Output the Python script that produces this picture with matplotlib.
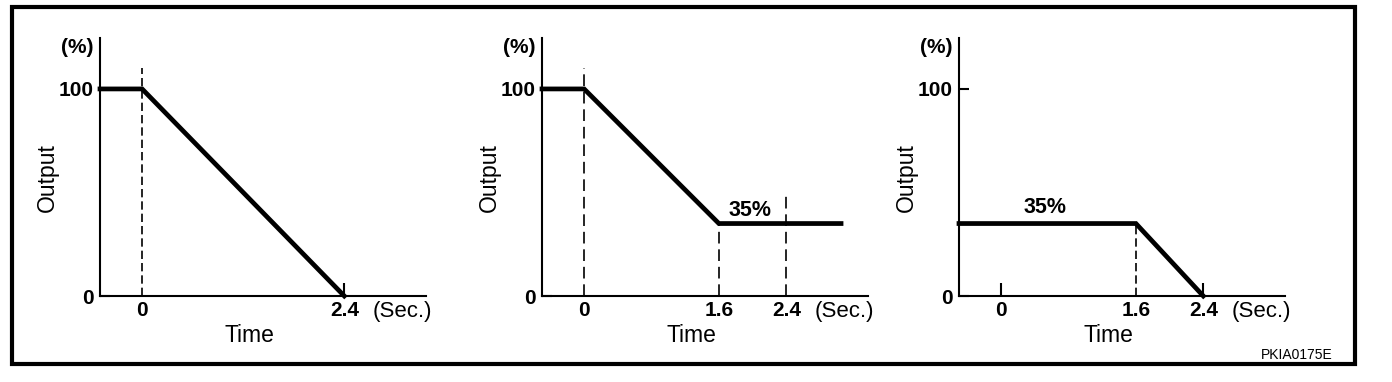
import matplotlib
matplotlib.use('Agg')
import matplotlib.pyplot as plt
from matplotlib.patches import Rectangle

plt.rcParams['font.family'] = ['Liberation Sans', 'DejaVu Sans']

# output curves (time in sec, output in %)
t1 = [-0.5, 0, 2.4]
y1 = [100, 100, 0]
t2 = [-0.5, 0, 1.6, 3.05]
y2 = [100, 100, 35, 35]
t3 = [-0.5, 1.6, 2.4]
y3 = [35, 35, 0]

# dashed guide lines: (time, top %)
guides1 = [(0, 110)]
guides2 = [(0, 110), (1.6, 35), (2.4, 50)]
guides3 = [(1.6, 35)]

xticks1 = [0, 2.4]
xticks2 = [0, 1.6, 2.4]
xticks3 = [0, 1.6, 2.4]
yticks = [0, 100]

W, H = 1392, 382
fig = plt.figure(figsize=(W / 100, H / 100), dpi=100)


def panel(left, t, y, guides, xticks, dash, hide_ticks, note=None):
  ax = fig.add_axes([left / W, (H - 296) / H, 326 / W, 258 / H])
  ax.set_xlim(-0.5, 3.37)
  ax.set_ylim(0, 124.6)
  for s in ['top', 'right']:
    ax.spines[s].set_visible(False)
  for s in ['left', 'bottom']:
    ax.spines[s].set_linewidth(1.5)

  ax.plot(t, y, color='black', lw=3.4, solid_joinstyle='miter', clip_on=False, zorder=3)
  for gx, gtop in guides:
    ax.plot([gx, gx], [0, gtop], color='black', lw=1.2, dashes=dash, clip_on=False)

  ax.set_xticks(xticks)
  ax.set_xticklabels([str(v) for v in xticks], fontweight='bold', fontsize=15)
  ax.set_yticks(yticks)
  ax.set_yticklabels([str(v) for v in yticks], fontweight='bold', fontsize=15)
  ax.tick_params(axis='x', direction='in', length=9.5, width=1.5, pad=3.5)
  ax.tick_params(axis='y', direction='in', length=7, width=1.5, pad=4.5)
  for i in hide_ticks:
    ax.xaxis.get_major_ticks()[i].tick1line.set_visible(False)

  ax.annotate('(%)', xy=(-0.5, 120), xytext=(-6, 0), textcoords='offset pixels',
              ha='right', va='center', fontsize=15, fontweight='bold')
  ax.annotate('Output', xy=(-0.5, 57), xytext=(-53, 0), textcoords='offset pixels',
              ha='center', va='center', rotation=90, fontsize=16.5)
  ax.annotate('Time', xy=(1.27, 0), xytext=(0, -39), textcoords='offset pixels',
              ha='center', va='center', fontsize=16.5)
  ax.annotate('(Sec.)', xy=(2.4, 0), xytext=(28, -15.5), textcoords='offset pixels',
              ha='left', va='center', fontsize=16)
  if note:
    ax.text(note[0], note[1], '35%', ha='center', va='center', fontsize=15.5, fontweight='bold')
  return ax


panel(100, t1, y1, guides1, xticks1, (5, 2.4), [0])
panel(542, t2, y2, guides2, xticks2, (7, 3.5), [0, 1, 2], note=(1.97, 41.5))
panel(959, t3, y3, guides3, xticks3, (5, 2.4), [1], note=(0.52, 42.5))

fig.add_artist(Rectangle((12 / W, (H - 364) / H), (1355 - 12) / W, (364 - 7) / H,
                         transform=fig.transFigure, fill=False, lw=3, edgecolor='black'))
fig.text(1333 / W, 1 - 355 / H, 'PKIA0175E', ha='right', va='center', fontsize=10)

fig.savefig('out.png', dpi=100)
